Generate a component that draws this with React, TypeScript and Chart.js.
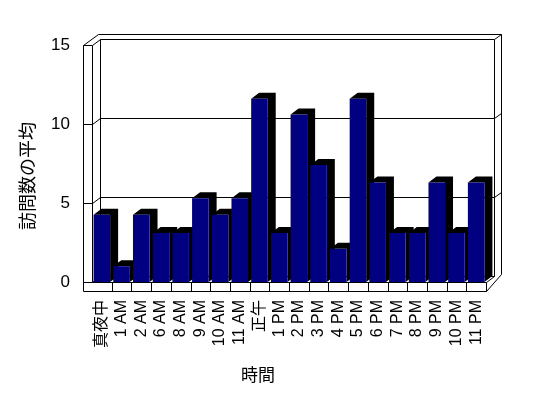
import React, { useEffect, useRef } from "react";
import { Chart, registerables } from "chart.js";

Chart.register(...registerables);

const categories = [
  "真夜中", "1 AM", "2 AM", "6 AM", "8 AM", "9 AM", "10 AM", "11 AM", "正午",
  "1 PM", "2 PM", "3 PM", "4 PM", "5 PM", "6 PM", "7 PM", "8 PM", "9 PM", "10 PM", "11 PM",
];
const visitAverages = [
  4.25, 1.0, 4.25, 3.1, 3.1, 5.3, 4.25, 5.3, 11.6,
  3.1, 10.6, 7.4, 2.1, 11.6, 6.3, 3.1, 3.1, 6.3, 3.1, 6.3,
];
const yTicks = [0, 5, 10, 15];
const yTitle = "訪問数の平均";
const xTitle = "時間";

const FONT = '"Liberation Sans", Arial, "Noto Sans CJK JP", sans-serif';
const DX = 8;
const DY = -6;
const WALL = 9;

const frame3d = {
  id: "frame3d",
  beforeDatasetsDraw(chart: any) {
    const ctx = chart.ctx;
    const a = chart.chartArea;
    const ys = chart.scales.y;
    const L = a.left, R = a.right, T = a.top, B = a.bottom;
    const line = (x1: number, y1: number, x2: number, y2: number) => {
      ctx.beginPath();
      ctx.moveTo(Math.round(x1) + 0.5, Math.round(y1) + 0.5);
      ctx.lineTo(Math.round(x2) + 0.5, Math.round(y2) + 0.5);
      ctx.stroke();
    };
    ctx.save();
    ctx.strokeStyle = "#000";
    ctx.lineWidth = 1;
    for (const v of yTicks) {
      const y = ys.getPixelForValue(v);
      line(L + DX, y + DY, R + DX, y + DY);
      line(L, y, L + DX, y + DY);
      line(L - WALL, y, L, y);
      if (v !== 0) line(R + DX, y + DY, R + DX + 7, y + DY - 5);
    }
    line(L - WALL + DX + 7, T + DY - 5, R + DX + 7, T + DY - 5);
    line(L - WALL, T, L - WALL + DX + 7, T + DY - 5);
    line(L + DX, T + DY, L + DX, B + DY);
    line(R + DX, T + DY, R + DX, B + DY);
    line(R + DX + 7, T + DY - 5, R + DX + 7, B + DY - 2);
    line(L - WALL, T, L - WALL, B + WALL);
    line(L, T, L, B);
    line(L, B, R, B);
    line(L - WALL, B + WALL, R, B + WALL);
    line(R, B, R, B + WALL);
    line(R, B, R + DX, B + DY);
    line(R, B + WALL, R + DX + 7, B + DY - 2);
    const n = categories.length;
    const cw = (R - L) / n;
    for (let i = 1; i < n; i++) {
      const x = L + cw * i;
      line(x, B, x, B + WALL);
    }
    const meta = chart.getDatasetMeta(0);
    ctx.fillStyle = "#000";
    meta.data.forEach((bar: any) => {
      const p = bar.getProps(["x", "y", "base", "width"], true);
      const x0 = p.x - p.width / 2;
      const x1 = p.x + p.width / 2;
      const top = p.y;
      const bot = p.base;
      ctx.beginPath();
      ctx.moveTo(x0, top);
      ctx.lineTo(x0 + DX, top + DY);
      ctx.lineTo(x1 + DX, top + DY);
      ctx.lineTo(x1 + DX, bot + DY);
      ctx.lineTo(x1, bot);
      ctx.lineTo(x1, top);
      ctx.closePath();
      ctx.fill();
    });
    ctx.restore();
  },
  afterDraw(chart: any) {
    const ctx = chart.ctx;
    ctx.save();
    ctx.fillStyle = "#000";
    ctx.textAlign = "center";
    ctx.textBaseline = "middle";
    ctx.font = "18px " + FONT;
    ctx.translate(29, 176);
    ctx.rotate(-Math.PI / 2);
    ctx.fillText(yTitle, 0, 0);
    ctx.restore();
    ctx.save();
    ctx.fillStyle = "#000";
    ctx.textAlign = "center";
    ctx.textBaseline = "middle";
    ctx.font = "17px " + FONT;
    ctx.fillText(xTitle, 258, 376);
    ctx.restore();
  },
};

export default function App() {
  const ref = useRef<HTMLCanvasElement | null>(null);
  useEffect(() => {
    if (!ref.current) return;
    const chart = new Chart(ref.current, {
      type: "bar",
      data: {
        labels: categories,
        datasets: [
          {
            data: visitAverages,
            backgroundColor: "#000080",
            borderWidth: 0,
            barPercentage: 0.84,
            categoryPercentage: 1,
          },
        ],
      },
      options: {
        animation: false,
        responsive: false,
        maintainAspectRatio: false,
        layout: { padding: { top: 45, right: 62, left: 0, bottom: 0 } },
        plugins: { legend: { display: false }, tooltip: { enabled: false } },
        scales: {
          x: {
            grid: { display: false, drawTicks: false },
            border: { display: false },
            afterFit: (axis: any) => {
              axis.height = 116;
            },
            ticks: {
              color: "#000",
              minRotation: 90,
              maxRotation: 90,
              autoSkip: false,
              padding: 18,
              font: { family: FONT, size: 16 },
            },
          },
          y: {
            min: 0,
            max: 15,
            grid: { display: false, drawTicks: false },
            border: { display: false },
            afterFit: (axis: any) => {
              axis.width = 92;
            },
            ticks: {
              color: "#000",
              stepSize: 5,
              padding: 22,
              font: { family: FONT, size: 17 },
            },
          },
        },
      },
      plugins: [frame3d],
    });
    return () => chart.destroy();
  }, []);
  return (
    <div style={{ position: "fixed", left: 0, top: 0, width: 548, height: 398, background: "#fff" }}>
      <canvas ref={ref} width={548} height={398} />
    </div>
  );
}
